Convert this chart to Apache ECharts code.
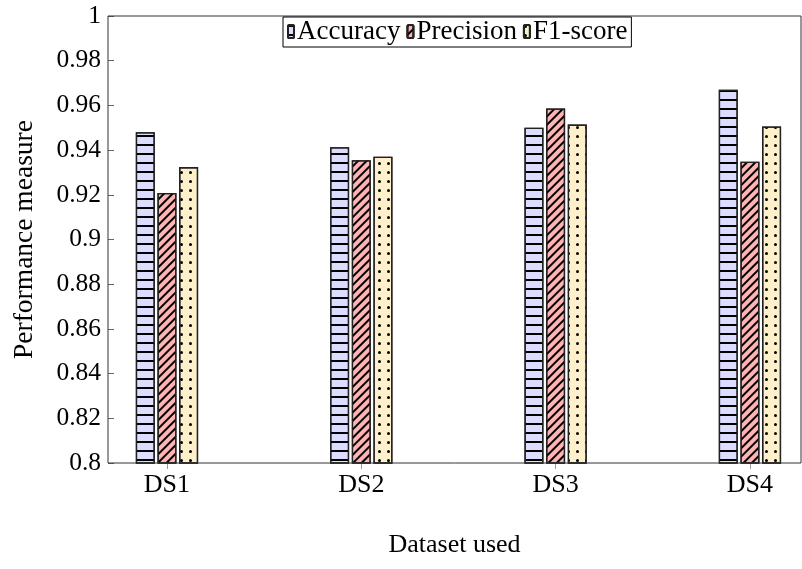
<!DOCTYPE html>
<html>
<head>
<meta charset="utf-8">
<script src="https://cdn.jsdelivr.net/npm/echarts@6/dist/echarts.min.js"></script>
<style>html,body{margin:0;padding:0;background:#fff}#c{width:802px;height:569px}</style>
</head>
<body>
<div id="c"></div>
<script>
const categories = ['DS1', 'DS2', 'DS3', 'DS4'];
const seriesNames = ['Accuracy', 'Precision', 'F1-score'];
const accuracy = [0.948, 0.9413, 0.9500, 0.967];
const precision = [0.9208, 0.9355, 0.9586, 0.9348];
const f1score = [0.9324, 0.9370, 0.9514, 0.9506];
const yTicks = { min: 0.8, max: 1, interval: 0.02 };

const FONT = 'Liberation Serif';
const chart = echarts.init(document.getElementById('c'));

const decals = [
  { symbol: 'rect', symbolSize: 1, dashArrayX: [1, 0], dashArrayY: [1.3, 6.7], rotation: 0, color: '#000' },
  { symbol: 'rect', symbolSize: 1, dashArrayX: [1, 0], dashArrayY: [1.1, 4], rotation: -Math.PI / 4, color: '#000' },
  { symbol: 'circle', symbolSize: 1, dashArrayX: [2.6, 6], dashArrayY: [2.6, 5.4], rotation: 0, color: '#000' }
];
const fills = ['#dcdcff', '#ffb3b3', '#fff0cc'];
const values = [accuracy, precision, f1score];

chart.setOption({
  animation: false,
  textStyle: { fontFamily: FONT, color: '#000' },
  legend: {
    data: seriesNames,
    top: 17,
    left: 283,
    itemWidth: 6,
    itemHeight: 13,
    itemGap: 6,
    padding: [1, 4, 2, 4],
    borderColor: '#000',
    borderWidth: 1,
    backgroundColor: '#fff',
    textStyle: { fontFamily: FONT, fontSize: 27, color: '#000', padding: [0, 0, 0, -2] },
    z: 10
  },
  grid: [
    { left: 108, right: 1, top: 16, bottom: 106, show: true, borderColor: '#333', borderWidth: 1, backgroundColor: 'transparent', outerBoundsMode: 'none', z: 3 },
    { left: 69.8, width: 777.3, top: 16, bottom: 106, outerBoundsMode: 'none' }
  ],
  xAxis: [
    {
      gridIndex: 0, type: 'category', data: categories,
      axisLine: { show: false }, axisTick: { show: false }, axisLabel: { show: false },
      name: 'Dataset used', nameLocation: 'middle', nameGap: 69,
      nameTextStyle: { fontFamily: FONT, fontSize: 26, color: '#000' }
    },
    {
      gridIndex: 1, type: 'category', data: categories, boundaryGap: true,
      axisLine: { show: false },
      axisTick: { show: true, alignWithLabel: true, length: 6, lineStyle: { color: '#999' } },
      axisLabel: { fontFamily: FONT, fontSize: 26, color: '#000', margin: 9 }
    }
  ],
  yAxis: [
    {
      gridIndex: 0, type: 'value', min: yTicks.min, max: yTicks.max, interval: yTicks.interval,
      axisLine: { show: false },
      axisTick: { show: true, inside: true, length: 6, lineStyle: { color: '#666' } },
      splitLine: { show: false },
      axisLabel: { fontFamily: FONT, fontSize: 25.5, color: '#000', margin: 7 },
      name: 'Performance measure', nameLocation: 'middle', nameRotate: 90, nameGap: 69,
      nameTextStyle: { fontFamily: FONT, fontSize: 27.5, color: '#000' }
    },
    {
      gridIndex: 1, type: 'value', min: yTicks.min, max: yTicks.max, show: false,
      splitLine: { show: false }
    }
  ],
  series: seriesNames.map((n, i) => ({
    name: n,
    type: 'bar',
    xAxisIndex: 1,
    yAxisIndex: 1,
    data: values[i],
    barWidth: 19,
    barGap: '14%',
    itemStyle: { color: fills[i], borderColor: '#222', borderWidth: 1.3, decal: decals[i] }
  }))
});
</script>
</body>
</html>
